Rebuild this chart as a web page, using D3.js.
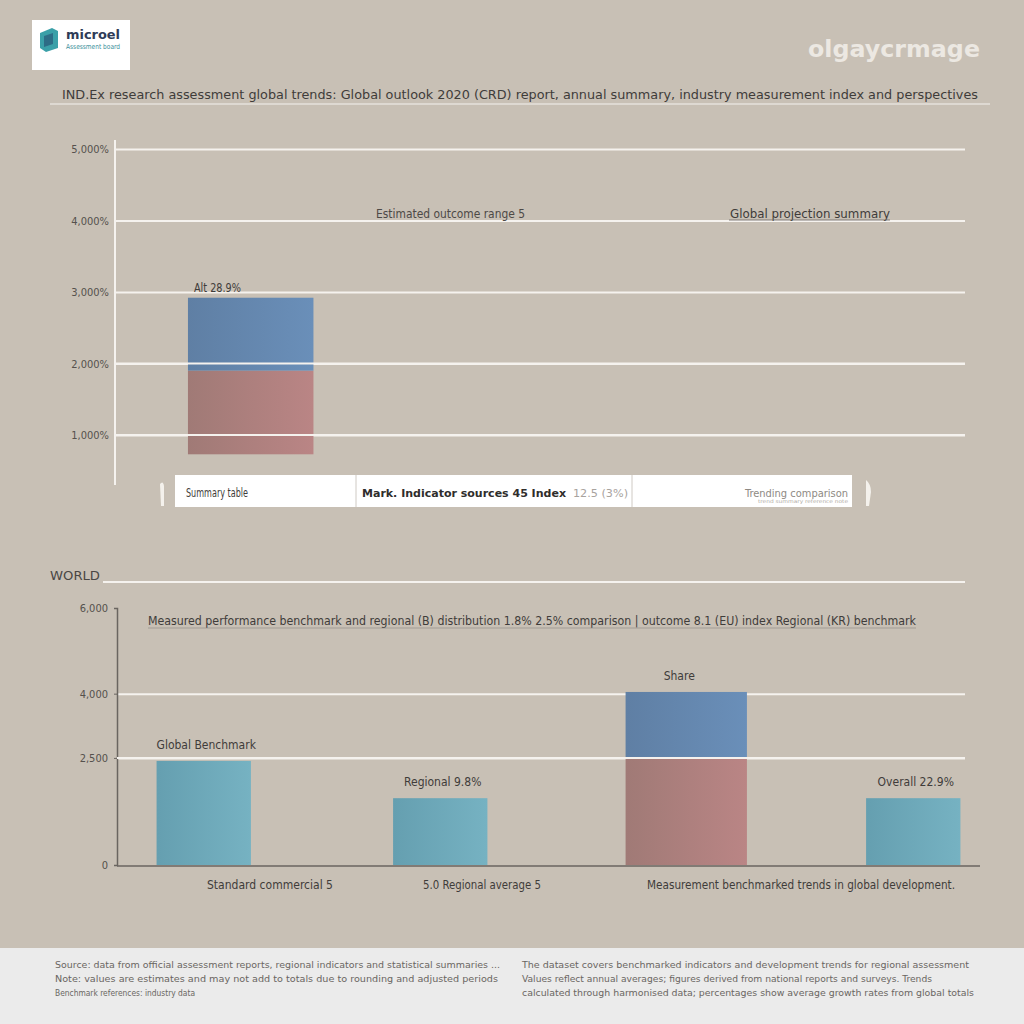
<!DOCTYPE html>
<html><head><meta charset="utf-8">
<script src="https://cdn.jsdelivr.net/npm/d3@7"></script>
<style>html,body{margin:0;padding:0;background:#c8c0b5;}svg{display:block;}</style>
</head><body>
<script>
// ---------- data ----------
const topTickValues = [1000, 2000, 3000, 4000, 5000];
const topTickLabels = ["1,000%", "2,000%", "3,000%", "4,000%", "5,000%"];
const topCategories = ["Alt", "Estimated", "Global"];
const topRedStart = [730, null, null];
const topRedEnd   = [1900, null, null];
const topBlueEnd  = [2920, null, null];
const topBarLabels = ["Alt 28.9%", "", ""];

const botTickValues = [0, 2500, 4000, 6000];
const botTickLabels = ["0", "2,500", "4,000", "6,000"];
const botGridValues = [2500, 4000];
const botCategories = ["Benchmark", "Regional", "Share", "Overall"];
const botTeal = [2430, 1560, null, 1560];
const botRed  = [null, null, 2520, null];
const botBlue = [null, null, 4040, null];
const botBarLabels = ["Global Benchmark", "Regional  9.8%", "Share", "Overall    22.9%"];

const W = 1024, H = 1024;
const svg = d3.select("body").append("svg").attr("width", W).attr("height", H);
const FONT = "'Liberation Sans Narrow','DejaVu Sans Condensed','Liberation Sans',sans-serif";

const defs = svg.append("defs");
function grad(id, c1, c2) {
  const g = defs.append("linearGradient").attr("id", id).attr("x1", "0").attr("x2", "1").attr("y1", "0").attr("y2", "0");
  g.append("stop").attr("offset", "0").attr("stop-color", c1);
  g.append("stop").attr("offset", "1").attr("stop-color", c2);
}
grad("gBlue", "#5f7fa4", "#6a8fb9");
grad("gRed", "#a07a76", "#ba8585");
grad("gTeal", "#659fb0", "#76b2c2");

svg.append("rect").attr("width", W).attr("height", H).attr("fill", "#c8c0b5");

function txt(x, y, s, o = {}) {
  const t = svg.append("text").attr("x", x).attr("y", y).text(s)
    .attr("font-family", o.family || FONT).attr("font-size", o.size || 12)
    .attr("fill", o.fill || "#4a4744").attr("text-anchor", o.anchor || "start")
    .attr("font-weight", o.weight || "normal");
  if (o.len) t.attr("textLength", o.len).attr("lengthAdjust", "spacingAndGlyphs");
  return t;
}

// ---------- header ----------
svg.append("rect").attr("x", 32).attr("y", 20).attr("width", 98).attr("height", 50).attr("fill", "#ffffff");
svg.append("path").attr("d", "M40,33 L52,28 L58,31 L58,48 L46,52 L40,48 Z").attr("fill", "#3aa0a8");
svg.append("path").attr("d", "M44,36 L53,33 L53,44 L44,47 Z").attr("fill", "#2d6d86");
txt(66, 39, "microel", {size: 12, fill: "#2e3b57", weight: "bold", len: 54});
txt(66, 49, "Assessment board", {size: 7, fill: "#3b8f9a", len: 54});
txt(980, 57, "olgaycrmage", {size: 23, fill: "#ece8e2", anchor: "end", weight: "bold", family: "'DejaVu Sans','Liberation Sans',sans-serif", len: 172});
txt(62, 99, "IND.Ex research assessment global trends: Global outlook 2020 (CRD) report, annual summary, industry measurement index and perspectives",
    {size: 13, fill: "#3f3c3a", len: 916});
svg.append("line").attr("x1", 50).attr("x2", 990).attr("y1", 104).attr("y2", 104).attr("stroke", "#e6e2dd").attr("stroke-width", 1.5);

// ---------- top chart ----------
const yTop = d3.scaleLinear().domain([1000, 5000]).range([435, 149]);
const xTop = d3.scaleBand().domain(topCategories).range([116, 965]).paddingInner(0.55).paddingOuter(0.25);

const gTopAxis = svg.append("g").attr("transform", "translate(115,0)")
  .call(d3.axisLeft(yTop).tickValues(topTickValues).tickFormat((d, i) => topTickLabels[i]).tickSize(-850).tickPadding(6));
gTopAxis.select(".domain").remove();
gTopAxis.selectAll(".tick line").attr("stroke", "#f5f2ee").attr("stroke-width", 2);
gTopAxis.selectAll(".tick text").attr("font-family", FONT).attr("font-size", 11).attr("fill", "#55514d");
svg.append("line").attr("x1", 115).attr("x2", 115).attr("y1", 140).attr("y2", 485).attr("stroke", "#f5f2ee").attr("stroke-width", 2);

const topData = topCategories.map((c, i) => ({c, r0: topRedStart[i], r1: topRedEnd[i], b1: topBlueEnd[i], label: topBarLabels[i]}))
  .filter(d => d.r0 !== null);
svg.selectAll(".topRed").data(topData).join("rect").attr("class", "topRed")
  .attr("x", d => xTop(d.c)).attr("width", xTop.bandwidth() - 4)
  .attr("y", d => yTop(d.r1)).attr("height", d => yTop(d.r0) - yTop(d.r1)).attr("fill", "url(#gRed)");
svg.selectAll(".topBlue").data(topData).join("rect").attr("class", "topBlue")
  .attr("x", d => xTop(d.c)).attr("width", xTop.bandwidth() - 4)
  .attr("y", d => yTop(d.b1)).attr("height", d => yTop(d.r1) - yTop(d.b1)).attr("fill", "url(#gBlue)");
svg.append("line").attr("x1", 115).attr("x2", 965).attr("y1", yTop(2000)).attr("y2", yTop(2000)).attr("stroke", "#f5f2ee").attr("stroke-width", 2);
svg.append("line").attr("x1", 115).attr("x2", 965).attr("y1", yTop(1000)).attr("y2", yTop(1000)).attr("stroke", "#f5f2ee").attr("stroke-width", 2);
svg.selectAll(".topLbl").data(topData).join("text").attr("class", "topLbl")
  .attr("x", d => xTop(d.c) + 6).attr("y", d => yTop(d.b1) - 6).text(d => d.label)
  .attr("font-family", FONT).attr("font-size", 12).attr("fill", "#3f3c3a")
  .attr("textLength", 47).attr("lengthAdjust", "spacingAndGlyphs");

txt(376, 218, "Estimated outcome range  5", {size: 12, fill: "#4d4946", len: 149});
txt(730, 218, "Global   projection summary", {size: 12, fill: "#3f3c3a", len: 160});
svg.append("line").attr("x1", 729).attr("x2", 890).attr("y1", 220).attr("y2", 220).attr("stroke", "#6b6662").attr("stroke-width", 0.8);

// legend row
svg.append("rect").attr("x", 175).attr("y", 475).attr("width", 677).attr("height", 32).attr("fill", "#ffffff");
svg.append("line").attr("x1", 356).attr("x2", 356).attr("y1", 475).attr("y2", 507).attr("stroke", "#cfcac4");
svg.append("line").attr("x1", 632).attr("x2", 632).attr("y1", 475).attr("y2", 507).attr("stroke", "#cfcac4");
txt(186, 497, "Summary table", {size: 12, fill: "#3f3c3a", len: 62});
txt(362, 497, "Mark. Indicator sources 45 Index", {size: 11, fill: "#2f2d2b", weight: "bold", len: 204});
txt(573, 497, "12.5 (3%)", {size: 11, fill: "#a8a39e", len: 55});
txt(848, 497, "Trending comparison", {size: 11, fill: "#8e8983", anchor: "end", len: 103});
txt(848, 503, "trend summary reference note", {size: 5, fill: "#b0aba5", anchor: "end", len: 90});
svg.append("path").attr("d", "M160,484 Q163,480 164,486 L164,506 L161,506 Z").attr("fill", "#f4f1ec");
svg.append("path").attr("d", "M866,480 Q871,484 871,492 L869,506 L866,506 Z").attr("fill", "#f4f1ec");

// ---------- bottom chart ----------
txt(50, 580, "WORLD", {size: 12, fill: "#4a4744", len: 50});
svg.append("line").attr("x1", 103).attr("x2", 965).attr("y1", 582).attr("y2", 582).attr("stroke", "#f5f2ee").attr("stroke-width", 2);

const yBot = d3.scaleLinear().domain([0, 6000]).range([865, 608]);
const xBot = d3.scaleBand().domain(botCategories).range([114, 1008]).paddingInner(0.58).paddingOuter(0.18);

const gGrid = svg.append("g").attr("transform", "translate(117,0)")
  .call(d3.axisLeft(yBot).tickValues(botGridValues).tickFormat("").tickSize(-848));
gGrid.select(".domain").remove();
gGrid.selectAll(".tick line").attr("stroke", "#f5f2ee").attr("stroke-width", 2);

const gBotAxis = svg.append("g").attr("transform", "translate(117,0)")
  .call(d3.axisLeft(yBot).tickValues(botTickValues).tickFormat((d, i) => botTickLabels[i]).tickSize(3).tickPadding(6));
gBotAxis.select(".domain").attr("stroke", "#6a6560").attr("stroke-width", 1.5);
gBotAxis.selectAll(".tick line").attr("stroke", "#6a6560");
gBotAxis.selectAll(".tick text").attr("font-family", FONT).attr("font-size", 11).attr("fill", "#55514d");
svg.append("line").attr("x1", 117).attr("x2", 980).attr("y1", yBot(0) + 1).attr("y2", yBot(0) + 1).attr("stroke", "#6a6560").attr("stroke-width", 1.5);

txt(148, 625, "Measured performance benchmark and regional (B) distribution 1.8% 2.5% comparison  |  outcome 8.1 (EU) index Regional (KR) benchmark",
    {size: 13, fill: "#3f3c3a", len: 768});
svg.append("line").attr("x1", 148).attr("x2", 916).attr("y1", 628).attr("y2", 628).attr("stroke", "#8a857f").attr("stroke-width", 0.6);

const botData = botCategories.map((c, i) => ({c, teal: botTeal[i], red: botRed[i], blue: botBlue[i], label: botBarLabels[i]}));
svg.selectAll(".botTeal").data(botData.filter(d => d.teal !== null)).join("rect").attr("class", "botTeal")
  .attr("x", d => xBot(d.c)).attr("width", xBot.bandwidth() - 5)
  .attr("y", d => yBot(d.teal)).attr("height", d => yBot(0) - yBot(d.teal)).attr("fill", "url(#gTeal)");
const stackData = botData.filter(d => d.red !== null);
svg.selectAll(".botRed").data(stackData).join("rect").attr("class", "botRed")
  .attr("x", d => xBot(d.c) - 4).attr("width", xBot.bandwidth() + 22)
  .attr("y", d => yBot(d.red)).attr("height", d => yBot(0) - yBot(d.red)).attr("fill", "url(#gRed)");
svg.selectAll(".botBlue").data(stackData).join("rect").attr("class", "botBlue")
  .attr("x", d => xBot(d.c) - 4).attr("width", xBot.bandwidth() + 22)
  .attr("y", d => yBot(d.blue)).attr("height", d => yBot(d.red) - yBot(d.blue)).attr("fill", "url(#gBlue)");
svg.append("line").attr("x1", 117).attr("x2", 965).attr("y1", yBot(2500)).attr("y2", yBot(2500)).attr("stroke", "#f5f2ee").attr("stroke-width", 2);
svg.selectAll(".botLbl").data(botData).join("text").attr("class", "botLbl")
  .attr("x", d => xBot(d.c) + xBot.bandwidth() / 2).attr("y", d => yBot(d.teal !== null ? d.teal : d.blue) - 12)
  .text(d => d.label).attr("text-anchor", "middle")
  .attr("font-family", FONT).attr("font-size", 12).attr("fill", "#3f3c3a");

txt(270, 889, "Standard commercial  5", {size: 13, fill: "#3f3c3a", anchor: "middle", len: 126});
txt(482, 889, "5.0  Regional average  5", {size: 13, fill: "#3f3c3a", anchor: "middle", len: 118});
txt(647, 889, "Measurement benchmarked trends in global development.", {size: 12, fill: "#3f3c3a", len: 308});

// ---------- footer ----------
svg.append("rect").attr("x", 0).attr("y", 948).attr("width", W).attr("height", 76).attr("fill", "#ebebeb");
const footL = ["Source: data from official assessment reports, regional indicators and statistical summaries ...",
  "Note: values are estimates and may not add to totals due to rounding and adjusted periods",
  "Benchmark references: industry data"];
const footR = ["The dataset covers benchmarked indicators and development trends for regional assessment",
  "Values reflect annual averages; figures derived from national reports and surveys. Trends",
  "calculated through harmonised data; percentages show average growth rates from global totals"];
const footLLen = [445, 443, 140];
const footRLen = [447, 410, 452];
footL.forEach((s, i) => txt(55, 968 + i * 14, s, {size: 9.5, fill: "#6a6662", len: footLLen[i]}));
footR.forEach((s, i) => txt(522, 968 + i * 14, s, {size: 9.5, fill: "#6a6662", len: footRLen[i]}));
</script>
</body></html>
